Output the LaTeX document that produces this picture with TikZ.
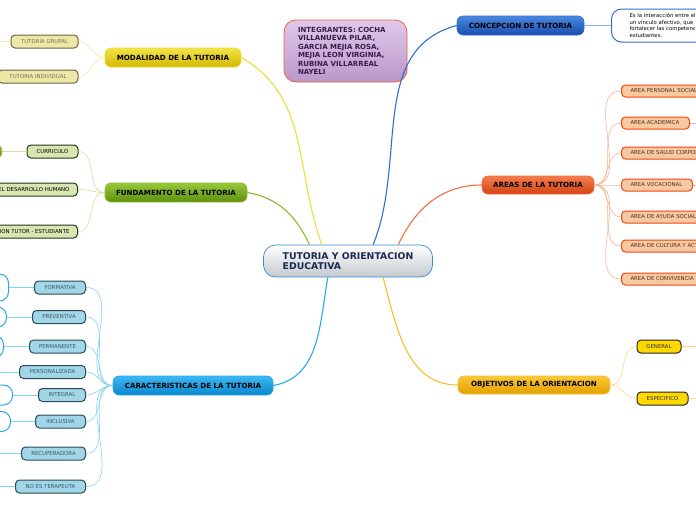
\documentclass[tikz,border=0pt]{standalone}
\usepackage{fontspec}
\setmainfont{DejaVu Sans}
\definecolor{rootline}{HTML}{3A8AD0}
\definecolor{rootbot}{HTML}{C4CAD0}
\definecolor{rootink}{HTML}{1A2A50}
\definecolor{teamtop}{HTML}{E2C6EA}
\definecolor{teambot}{HTML}{B898C8}
\definecolor{teamline}{HTML}{F06040}
\definecolor{teamink}{HTML}{3A1A4A}
\definecolor{modtop}{HTML}{F2E448}
\definecolor{modbot}{HTML}{D2B800}
\definecolor{modline}{HTML}{EEDC3A}
\definecolor{modtwig}{HTML}{F2EA98}
\definecolor{modleaf}{HTML}{ECE8A8}
\definecolor{modedge}{HTML}{6A6440}
\definecolor{modink}{HTML}{7A7050}
\definecolor{fundtop}{HTML}{98C83A}
\definecolor{fundbot}{HTML}{5E9010}
\definecolor{fundline}{HTML}{8CBC2C}
\definecolor{fundtwig}{HTML}{CCE29A}
\definecolor{fundleaf}{HTML}{D8E6B0}
\definecolor{fundedge}{HTML}{1E3A1E}
\definecolor{cartop}{HTML}{3CB8F4}
\definecolor{carbot}{HTML}{0A86CC}
\definecolor{carline}{HTML}{2AA8E8}
\definecolor{cartwig}{HTML}{88D2F2}
\definecolor{carleaf}{HTML}{A0D6E6}
\definecolor{caredge}{HTML}{2E4A5A}
\definecolor{carink}{HTML}{3A5A6A}
\definecolor{conctop}{HTML}{4A88E0}
\definecolor{concbot}{HTML}{1A4EB0}
\definecolor{concline}{HTML}{2F6FD0}
\definecolor{conctwig}{HTML}{8AB4EC}
\definecolor{areatop}{HTML}{F47C4C}
\definecolor{areabot}{HTML}{D44414}
\definecolor{arealine}{HTML}{F07040}
\definecolor{areatwig}{HTML}{F8B494}
\definecolor{arealeaf}{HTML}{F8C8A0}
\definecolor{areaedge}{HTML}{F04810}
\definecolor{areaink}{HTML}{503020}
\definecolor{objtop}{HTML}{FAC838}
\definecolor{objbot}{HTML}{E2A000}
\definecolor{objline}{HTML}{F8C030}
\definecolor{objtwig}{HTML}{F8DC88}
\definecolor{objleaf}{HTML}{FFD800}
\newcommand\topicfont{\fontsize{7.1}{8.5}\selectfont\bfseries}
\newcommand\leaffont{\fontsize{5.4}{6.4}\selectfont}
\begin{document}
\begin{tikzpicture}[x=1pt,y=-1pt,
  every node/.style={inner sep=0pt},
  topic/.style={rounded corners=6pt,minimum height=19pt,font=\topicfont,line width=0.6pt},
  leaf/.style={rounded corners=4pt,minimum height=13pt,font=\leaffont,line width=1pt},
  leftcut/.style={anchor=east,inner xsep=8pt,align=right},
  hidden/.style={rounded corners=9pt,draw=carline,fill=white,line width=1pt,minimum width=60pt,anchor=east},
  link/.style={line width=1.1pt},
  twig/.style={line width=0.6pt}]
\useasboundingbox[fill=white] (0,0) rectangle (696,520);

% centre and team
\node[rounded corners=12pt,minimum width=169pt,minimum height=32pt,align=left,
  top color=white,bottom color=rootbot,draw=rootline,line width=0.7pt,text=rootink,
  font=\fontsize{9.3}{10.5}\selectfont\bfseries] (root) at (348,261) {TUTORIA Y ORIENTACION\\EDUCATIVA};
\node[rounded corners=12pt,minimum width=123pt,minimum height=62pt,text width=95pt,align=left,
  top color=teamtop,bottom color=teambot,draw=teamline,line width=0.8pt,text=teamink,
  font=\fontsize{7}{8.5}\selectfont\bfseries] (team) at (345.5,51)
  {INTEGRANTES: COCHA\\VILLANUEVA PILAR,\\GARCIA MEJIA ROSA,\\MEJIA LEON VIRGINIA,\\RUBINA VILLARREAL\\NAYELI};

% topics
\node[topic,top color=modtop,bottom color=modbot,draw=modline,minimum width=136pt] (modal) at (173,57.5) {MODALIDAD DE LA TUTORIA};
\node[topic,top color=fundtop,bottom color=fundbot,draw=fundline,minimum width=142pt] (fund) at (176,192.5) {FUNDAMENTO DE LA TUTORIA};
\node[topic,top color=cartop,bottom color=carbot,draw=carline,minimum width=160pt] (carac) at (193,385.5) {CARACTERISTICAS DE LA TUTORIA};
\node[topic,top color=conctop,bottom color=concbot,draw=concline,minimum width=127pt] (conc) at (520.5,25.5) {CONCEPCION DE TUTORIA};
\node[topic,top color=areatop,bottom color=areabot,draw=arealine,minimum width=112pt,minimum height=18pt] (areas) at (538,185) {AREAS DE LA TUTORIA};
\node[topic,top color=objtop,bottom color=objbot,draw=objline,minimum width=152pt,minimum height=18pt] (objet) at (534,385) {OBJETIVOS DE LA ORIENTACION};

\draw[link,modline] (root.148) to[out=110,in=-30] (modal.east);
\draw[link,fundline] (root.157) to[out=115,in=-10] (fund.east);
\draw[link,carline] (root.219) to[out=260,in=10] (carac.east);
\draw[link,concline] (root.33) to[out=68,in=195] (conc.west);
\draw[link,arealine] (root.18) to[out=65,in=180] (areas.west);
\draw[link,objline] (root.335) to[out=-75,in=180] (objet.west);

% concepcion
\node[anchor=west,rounded corners=10pt,minimum width=136pt,minimum height=33pt,text width=100pt,align=left,
  draw=concline,fill=white,line width=1pt,font=\fontsize{5.3}{6.5}\selectfont] (concnote) at (611,25.5)
  {Es la interacción entre el\\un vínculo afectivo, que\\fortalecer las competencias\\estudiantes.};
\draw[twig,conctwig] (conc.east) -- (concnote.west);

% modalidad
\node[leaf,fill=modleaf,draw=modedge,text=modink,minimum width=67pt] (grupal) at (44.5,41.5) {TUTORIA GRUPAL};
\node[leaf,fill=modleaf,draw=modedge,text=modink,minimum width=80pt] (indiv) at (38,76.5) {TUTORIA INDIVIDUAL};
\coordinate (grupalend) at (-10,41.5);
\draw[twig,modtwig] (modal.west) to[out=180,in=0] (grupal.east);
\draw[twig,modtwig] (modal.west) to[out=180,in=0] (indiv.east);
\draw[twig,modtwig] (grupal.west) -- (grupalend);

% fundamento
\node[leaf,fill=fundleaf,draw=fundedge,minimum width=51pt] (curric) at (52.5,151.5) {CURRICULO};
\node[leaf,leftcut,fill=fundleaf,draw=fundedge] (desarr) at (78,189.5) {EL DESARROLLO HUMANO};
\node[leaf,leftcut,fill=fundleaf,draw=fundedge] (relac) at (78,231.5) {LA RELACION TUTOR - ESTUDIANTE};
\node[rounded corners=6pt,top color=fundtop,bottom color=fundbot,draw=fundline,minimum width=40pt,minimum height=14pt,anchor=east] (curricsub) at (2,151.5) {};
\draw[twig,fundtwig] (fund.west) to[out=180,in=0] (curric.east);
\draw[twig,fundtwig] (fund.west) to[out=180,in=0] (desarr.east);
\draw[twig,fundtwig] (fund.west) to[out=180,in=0] (relac.east);
\draw[twig,fundtwig] (curric.west) -- (curricsub.east);

% caracteristicas
\foreach \name/\txt/\bw/\y in {form/FORMATIVA/51/287.5, prev/PREVENTIVA/53/317,
  perm/PERMANENTE/56/346.5, pers/PERSONALIZADA/66/372, integ/INTEGRAL/47/395,
  incl/INCLUSIVA/50/421.5, recup/RECUPERADORA/64/453.5, noter/NO ES TERAPEUTA/70/486.5}{
  \node[leaf,fill=carleaf,draw=caredge,text=carink,minimum width=\bw pt,anchor=east] (\name) at (86,\y) {\txt};
  \draw[twig,cartwig] (carac.west) to[out=180,in=0] (\name.east);
}
\node[hidden,minimum height=27pt] (formsub) at (9,287.5) {};
\node[hidden,minimum height=20pt] (prevsub) at (7,317) {};
\node[hidden,minimum height=22pt] (permsub) at (4,346.5) {};
\node[hidden,minimum height=20pt] (integsub) at (13,395) {};
\node[hidden,minimum height=20pt] (inclsub) at (11,421.5) {};
\coordinate (persend) at (-10,372);
\coordinate (recupend) at (-10,453.5);
\coordinate (noterend) at (-10,486.5);
\foreach \a/\b in {form/formsub,prev/prevsub,perm/permsub,integ/integsub,incl/inclsub,
  pers/persend,recup/recupend,noter/noterend}
  \draw[twig,cartwig] (\a.west) -- (\b);

% areas
\foreach \name/\txt/\bw/\y in {apers/AREA PERSONAL SOCIAL/100/91, acad/AREA ACADEMICA/68/123,
  asalud/AREA DE SALUD CORPORAL/110/153, avoc/AREA VOCACIONAL/71/185,
  aayuda/AREA DE AYUDA SOCIAL/100/217, acult/AREA DE CULTURA Y ACTUALIDAD/130/246,
  aconv/AREA DE CONVIVENCIA/100/279}{
  \node[leaf,fill=arealeaf,draw=areaedge,text=areaink,minimum width=\bw pt,minimum height=12pt,anchor=west,
    text width=\bw pt-18pt,align=left] (\name) at (621,\y) {\txt};
  \draw[twig,areatwig] (areas.east) to[out=0,in=180] (\name.west);
}
\coordinate (acadend) at (706,123);
\coordinate (avocend) at (706,185);
\draw[twig,areatwig] (acad.east) -- (acadend);
\draw[twig,areatwig] (avoc.east) -- (avocend);

% objetivos
\node[leaf,fill=objleaf,draw=black!85,text=black!80,minimum width=44pt] (gener) at (659,346.5) {GENERAL};
\node[leaf,fill=objleaf,draw=black!85,text=black!80,minimum width=51pt] (espec) at (662.5,398.5) {ESPECIFICO};
\coordinate (generend) at (706,346.5);
\coordinate (especend) at (706,398.5);
\draw[twig,objtwig] (objet.east) to[out=0,in=180] (gener.west);
\draw[twig,objtwig] (objet.east) to[out=0,in=180] (espec.west);
\draw[twig,objtwig] (gener.east) -- (generend);
\draw[twig,objtwig] (espec.east) -- (especend);
\end{tikzpicture}
\end{document}
